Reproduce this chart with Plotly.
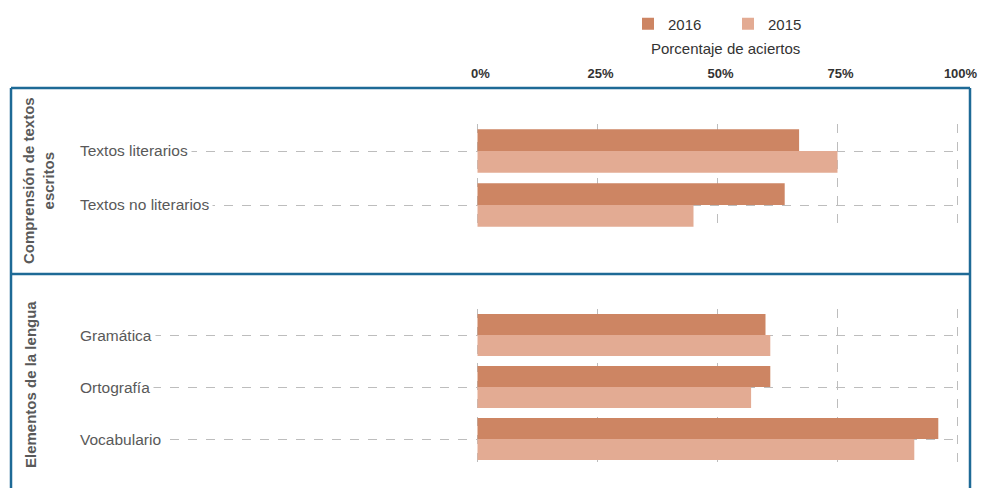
import plotly.graph_objects as go

# ---- data ----
groups = ["Comprensión de textos<br>escritos", "Elementos de la lengua"]
cats_top = ["Textos literarios", "Textos no literarios"]
cats_bot = ["Gramática", "Ortografía", "Vocabulario"]
v2016_top = [67, 64]
v2015_top = [75, 45]
v2016_bot = [60, 61, 96]
v2015_bot = [61, 57, 91]
tick_vals = [0, 25, 50, 75, 100]
tick_text = ["0%", "25%", "50%", "75%", "100%"]
axis_title = "Porcentaje de aciertos"

C16 = "#CD8563"
C15 = "#E3AB93"
FRAME = "#1E6A96"
GRID = "#BDBDBD"
TXT = "#595959"
FONT = "Liberation Sans, Arial, sans-serif"

W, H = 987, 488
px = lambda v: v / W
py = lambda v: 1 - v / H

fig = go.Figure()
fig.add_trace(go.Bar(y=cats_top, x=v2016_top, orientation="h", name="2016",
                     marker=dict(color=C16, line=dict(width=0)), xaxis="x", yaxis="y",
                     legendgroup="2016"))
fig.add_trace(go.Bar(y=cats_top, x=v2015_top, orientation="h", name="2015",
                     marker=dict(color=C15, line=dict(width=0)), xaxis="x", yaxis="y",
                     legendgroup="2015"))
fig.add_trace(go.Bar(y=cats_bot, x=v2016_bot, orientation="h", name="2016",
                     marker=dict(color=C16, line=dict(width=0)), xaxis="x2", yaxis="y2",
                     legendgroup="2016", showlegend=False))
fig.add_trace(go.Bar(y=cats_bot, x=v2015_bot, orientation="h", name="2015",
                     marker=dict(color=C15, line=dict(width=0)), xaxis="x2", yaxis="y2",
                     legendgroup="2015", showlegend=False))

x_lo = (80 - 477.5) / 4.8
x_hi = (960 - 477.5) / 4.8
xdom = [px(80), px(960)]

common_x = dict(range=[x_lo, x_hi], domain=xdom, tickvals=tick_vals, ticktext=tick_text,
                showgrid=True, gridcolor=GRID, griddash="dash", gridwidth=1,
                zeroline=False, showline=False, fixedrange=True, automargin=False)
fig.update_layout(
    xaxis=dict(**common_x, anchor="y", side="top", ticks="",
               ticklabelstandoff=42, ticklabelshift=3,
               tickfont=dict(family=FONT, size=13, color="#333333", weight="bold")),
    xaxis2=dict(**common_x, anchor="y2", showticklabels=False, matches="x"),
    yaxis=dict(domain=[py(232), py(124)], autorange="reversed", showticklabels=False,
               showgrid=True, gridcolor=GRID, griddash="dash", ticks="", anchor="x",
               automargin=False, fixedrange=True),
    yaxis2=dict(domain=[py(465), py(309)], autorange="reversed", showticklabels=False,
                showgrid=True, gridcolor=GRID, griddash="dash", ticks="", anchor="x2",
                automargin=False, fixedrange=True),
    barmode="group", bargap=0.19, bargroupgap=0,
    autosize=False,
    width=W, height=H, margin=dict(l=0, r=0, t=0, b=0, pad=0, autoexpand=False),
    plot_bgcolor="white", paper_bgcolor="white",
    font=dict(family=FONT, size=15, color="#333333"),
    legend=dict(orientation="h", x=px(628), y=py(24), xanchor="left", yanchor="middle",
                entrywidth=55, itemwidth=30, font=dict(size=15, color="#333333"),
                bgcolor="rgba(0,0,0,0)", traceorder="normal"),
    showlegend=True,
)

# axis title
fig.add_annotation(text=axis_title, xref="paper", yref="paper", x=px(725), y=py(49),
                   showarrow=False, font=dict(size=15, color="#333333"),
                   xanchor="center", yanchor="middle")

# category labels (white background hides the grid under the text)
for cats, yr in ((cats_top, "y"), (cats_bot, "y2")):
    for c in cats:
        fig.add_annotation(text=c, xref="paper", yref=yr, x=px(76), y=c,
                           showarrow=False, xanchor="left", yanchor="middle",
                           bgcolor="white", borderpad=3,
                           font=dict(size=15.5, color=TXT))

# group labels
fig.add_annotation(text="<b>" + groups[0] + "</b>", xref="paper", yref="paper",
                   x=px(38), y=py(181), textangle=-90, showarrow=False,
                   font=dict(size=15, color=TXT), xanchor="center", yanchor="middle")
fig.add_annotation(text="<b>" + groups[1] + "</b>", xref="paper", yref="paper",
                   x=px(30), y=py(385), textangle=-90, showarrow=False,
                   font=dict(size=15, color=TXT), xanchor="center", yanchor="middle")

# frame
frame = dict(type="line", xref="paper", yref="paper", line=dict(color=FRAME, width=2.5))
fig.add_shape(**frame, x0=px(11), x1=px(11), y0=py(88), y1=py(520))
fig.add_shape(**frame, x0=px(970), x1=px(970), y0=py(88), y1=py(520))
fig.add_shape(**frame, x0=px(11), x1=px(970), y0=py(88), y1=py(88))
fig.add_shape(**frame, x0=px(11), x1=px(970), y0=py(274), y1=py(274))

fig.write_html("out.html", config={"displayModeBar": False},
               post_script="document.body.style.margin='0';document.body.style.overflow='hidden';")
